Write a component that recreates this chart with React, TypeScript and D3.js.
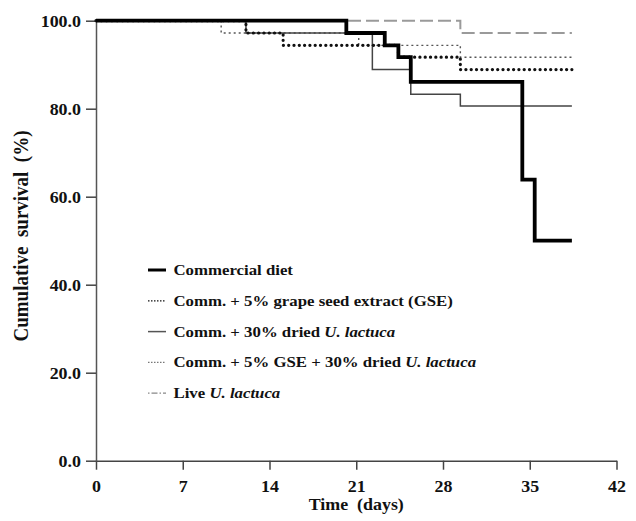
import { useRef, useEffect } from "react";
import * as d3 from "d3";

// Kaplan-Meier style survival steps (days, % survival)
const commTimes = [0, 20.2, 23.3, 24.4, 25.4, 34.4, 35.4, 38.4];
const commSurv = [100, 97.2, 94.4, 91.7, 86.1, 63.9, 50.0, 50.0];

const gseTimes = [0, 12.1, 15.1, 24.4, 29.4, 38.4];
const gseSurv = [100, 97.2, 94.4, 91.7, 88.9, 88.9];

const driedTimes = [0, 12.1, 22.3, 25.4, 29.4, 38.4];
const driedSurv = [100, 97.2, 88.9, 83.3, 80.6, 80.6];

const gseDriedTimes = [0, 10.1, 21.2, 29.4, 38.4];
const gseDriedSurv = [100, 97.2, 94.4, 91.7, 91.7];

const liveTimes = [0, 29.4, 38.4];
const liveSurv = [100, 97.2, 97.2];

const xTicks = [0, 7, 14, 21, 28, 35, 42];
const yTicks = [0, 20, 40, 60, 80, 100];

const legendLabels = [
  ["Commercial diet"],
  ["Comm. + 5% grape seed extract (GSE)"],
  ["Comm. + 30% dried ", "U. lactuca"],
  ["Comm. + 5% GSE + 30% dried ", "U. lactuca"],
  ["Live ", "U. lactuca"],
];

const FONT = "'Liberation Serif', 'Times New Roman', serif";
const STRETCH = "scale(1.12,1)";

export default function App() {
  const svgRef = useRef<SVGSVGElement>(null);
  const width = 636;
  const height = 521;

  useEffect(() => {
    const svg = d3.select(svgRef.current);
    svg.selectAll("*").remove();

    const x = d3.scaleLinear().domain([0, 42]).range([96, 616.5]);
    const y = d3.scaleLinear().domain([0, 100]).range([460.7, 20.7]);

    // series, drawn bottom to top
    const series = [
      { t: liveTimes, s: liveSurv, color: "#9a9a9a", w: 2, dash: "13 5", cap: "butt" },
      { t: gseDriedTimes, s: gseDriedSurv, color: "#555", w: 1.4, dash: "2 3", cap: "butt" },
      { t: driedTimes, s: driedSurv, color: "#444", w: 1.5, dash: null, cap: "butt" },
      { t: gseTimes, s: gseSurv, color: "#111", w: 3.2, dash: "0.1 5.2", cap: "round" },
      { t: commTimes, s: commSurv, color: "#000", w: 3.8, dash: null, cap: "butt" },
    ];

    const line = d3
      .line<[number, number]>()
      .x((d) => x(d[0]))
      .y((d) => y(d[1]))
      .curve(d3.curveStepAfter);

    // Axes
    const xAxis = d3.axisBottom(x).tickValues(xTicks).tickSize(9).tickSizeOuter(0);
    const gx = svg.append("g").attr("transform", `translate(0,${y(0)})`).call(xAxis);
    gx.select(".domain").attr("stroke", "#444").attr("stroke-width", 1.5);
    gx.selectAll(".tick line").attr("stroke", "#444").attr("stroke-width", 1.5);
    gx.selectAll(".tick text")
      .attr("y", 31)
      .attr("dy", 0)
      .attr("transform", STRETCH)
      .attr("fill", "#111")
      .style("font", `bold 16px ${FONT}`);

    const yAxis = d3
      .axisLeft(y)
      .tickValues(yTicks)
      .tickSize(10)
      .tickSizeOuter(0)
      .tickFormat(d3.format(".1f"));
    const gy = svg.append("g").attr("transform", `translate(${x(0)},0)`).call(yAxis);
    gy.select(".domain").attr("stroke", "#555").attr("stroke-width", 1.5);
    gy.selectAll(".tick line").attr("stroke", "#444").attr("stroke-width", 1.5);
    gy.selectAll(".tick text")
      .attr("x", -13.4)
      .attr("dy", "0.34em")
      .attr("transform", STRETCH)
      .attr("fill", "#111")
      .style("font", `bold 16px ${FONT}`);

    // Survival curves
    series.forEach((d) => {
      const pts = d.t.map((t, i) => [t, d.s[i]] as [number, number]);
      svg
        .append("path")
        .attr("d", line(pts))
        .attr("fill", "none")
        .attr("stroke", d.color)
        .attr("stroke-width", d.w)
        .attr("stroke-dasharray", d.dash)
        .attr("stroke-linecap", d.cap);
    });

    // Axis titles
    svg
      .append("text")
      .attr("transform", `translate(${x(21)},510) ${STRETCH}`)
      .attr("text-anchor", "middle")
      .attr("fill", "#111")
      .style("font", `bold 16px ${FONT}`)
      .style("white-space", "pre")
      .text("Time  (days)");

    svg
      .append("text")
      .attr("transform", `translate(28,236) ${STRETCH} rotate(-90)`)
      .attr("text-anchor", "middle")
      .attr("fill", "#111")
      .style("font", `bold 19px ${FONT}`)
      .style("white-space", "pre")
      .text("Cumulative  survival  (%)");

    // Legend
    const legendStyles = [
      { color: "#000", w: 3, dash: null },
      { color: "#111", w: 1.3, dash: "1.5 1.5" },
      { color: "#555", w: 1.5, dash: null },
      { color: "#777", w: 1.1, dash: "1.5 1.5" },
      { color: "#888", w: 1.2, dash: "1.5 2 6 2" },
    ];
    const legendY = d3
      .scalePoint<number>()
      .domain(d3.range(legendLabels.length))
      .range([270, 393.2]);

    const lg = svg.append("g");
    legendLabels.forEach((parts, i) => {
      const cy = legendY(i) as number;
      const st = legendStyles[i];
      lg.append("line")
        .attr("x1", 148)
        .attr("x2", 166)
        .attr("y1", cy)
        .attr("y2", cy)
        .attr("stroke", st.color)
        .attr("stroke-width", st.w)
        .attr("stroke-dasharray", st.dash);
      const txt = lg
        .append("text")
        .attr("transform", `translate(173.5,${cy + 5}) ${STRETCH}`)
        .attr("fill", "#111")
        .style("font", `bold 15px ${FONT}`)
        .style("white-space", "pre");
      txt.append("tspan").text(parts[0]);
      if (parts[1]) txt.append("tspan").attr("font-style", "italic").text(parts[1]);
    });
  }, []);

  return (
    <svg
      ref={svgRef}
      width={width}
      height={height}
      style={{ position: "absolute", left: 0, top: 0, background: "#fff" }}
    />
  );
}
